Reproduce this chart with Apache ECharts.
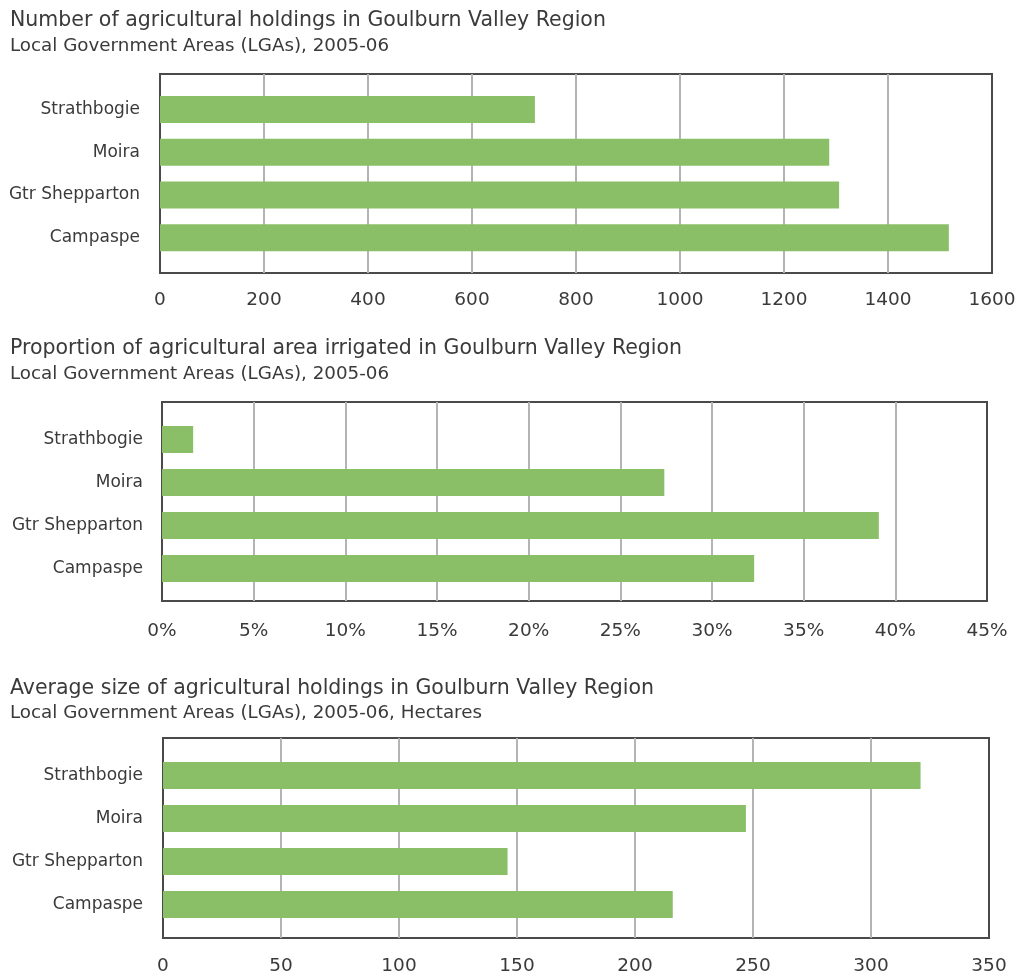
<!DOCTYPE html>
<html>
<head>
<meta charset="utf-8">
<title>Goulburn Valley Region agricultural holdings</title>
<script src="https://cdn.jsdelivr.net/npm/echarts@6/dist/echarts.min.js"></script>
<style>
  html, body { margin: 0; padding: 0; background: #ffffff; }
  #chart { width: 1016px; height: 979px; }
</style>
</head>
<body>
<div id="chart"></div>
<script>
// LGAs, listed top to bottom
const categories = ['Strathbogie', 'Moira', 'Gtr Shepparton', 'Campaspe'];

// Number of agricultural holdings
const holdings = [721, 1287, 1306, 1517];
// Proportion of agricultural area irrigated (%)
const irrigatedPct = [1.7, 27.4, 39.1, 32.3];
// Average size of agricultural holdings (hectares)
const avgSizeHa = [321, 247, 146, 216];

const titles = [
  'Number of agricultural holdings in Goulburn Valley Region',
  'Proportion of agricultural area irrigated in Goulburn Valley Region',
  'Average size of agricultural holdings in Goulburn Valley Region'
];
const subtitles = [
  'Local Government Areas (LGAs), 2005-06',
  'Local Government Areas (LGAs), 2005-06',
  'Local Government Areas (LGAs), 2005-06, Hectares'
];

// value-axis ranges: [min, max, interval]
const axisRanges = [[0, 1600, 200], [0, 45, 5], [0, 350, 50]];
const axisSuffix = ['', '%', ''];
const seriesData = [holdings, irrigatedPct, avgSizeHa];

const FONT = 'DejaVu Sans';
const BAR = '#8bbf67';
const FRAME = '#4a4a4a';
const GRIDLINE = '#b4b4b4';
const TEXT = '#3a3a3a';

// panel layout: frame box, inner band box for bars, title positions, label margins
const panels = [
  { frame: { left: 160, right: 24, top: 74, bottom: 706 },
    bars:  { top: 88, bottom: 720 },
    titleTop: 10, subTop: 37, tickMargin: 18, catMargin: 20 },
  { frame: { left: 162, right: 29, top: 402, bottom: 378 },
    bars:  { top: 418, bottom: 389 },
    titleTop: 338, subTop: 365, tickMargin: 21, catMargin: 19 },
  { frame: { left: 163, right: 27, top: 738, bottom: 41 },
    bars:  { top: 754, bottom: 53 },
    titleTop: 678, subTop: 704, tickMargin: 19, catMargin: 20 }
];

const title = [];
const grid = [];
const xAxis = [];
const yAxis = [];
const series = [];

panels.forEach(function (p, i) {
  const [mn, mx, step] = axisRanges[i];
  title.push({
    text: titles[i], left: 10, top: p.titleTop, padding: 0,
    textStyle: { fontFamily: FONT, fontSize: 20.5, lineHeight: 20.5, fontWeight: 'normal', color: TEXT }
  });
  title.push({
    text: subtitles[i], left: 10, top: p.subTop, padding: 0,
    textStyle: { fontFamily: FONT, fontSize: 18.3, lineHeight: 18.3, fontWeight: 'normal', color: TEXT }
  });

  // outer frame with vertical gridlines and tick labels
  const fi = grid.length;
  grid.push(Object.assign({
    show: true, borderColor: FRAME, borderWidth: 2, backgroundColor: '#ffffff',
    outerBoundsMode: 'none', containLabel: false
  }, p.frame));
  xAxis.push({
    gridIndex: fi, type: 'value', min: mn, max: mx, interval: step,
    axisLine: { show: false }, axisTick: { show: false },
    splitLine: { show: true, showMinLine: false, showMaxLine: false,
                 lineStyle: { color: GRIDLINE, width: 2 } },
    axisLabel: {
      margin: p.tickMargin, fontFamily: FONT, fontSize: 18.5, color: TEXT,
      formatter: function (v) { return v + axisSuffix[i]; }
    }
  });
  yAxis.push({ gridIndex: fi, type: 'value', show: false });

  // inner band area holding the bars and category labels
  const bi = grid.length;
  grid.push({
    left: p.frame.left, right: p.frame.right, top: p.bars.top, bottom: p.bars.bottom,
    outerBoundsMode: 'none', containLabel: false
  });
  xAxis.push({ gridIndex: bi, type: 'value', min: mn, max: mx, show: false, splitLine: { show: false } });
  yAxis.push({
    gridIndex: bi, type: 'category', data: categories, inverse: true,
    axisLine: { show: false }, axisTick: { show: false }, splitLine: { show: false },
    axisLabel: { margin: p.catMargin, fontFamily: FONT, fontSize: 17, color: TEXT }
  });

  series.push({
    type: 'bar', xAxisIndex: bi, yAxisIndex: bi,
    data: seriesData[i], barWidth: 27,
    itemStyle: { color: BAR },
    silent: true, animation: false
  });
});

const chart = echarts.init(document.getElementById('chart'), null, { renderer: 'canvas' });
chart.setOption({
  backgroundColor: '#ffffff',
  animation: false,
  title: title,
  grid: grid,
  xAxis: xAxis,
  yAxis: yAxis,
  series: series
});
</script>
</body>
</html>
